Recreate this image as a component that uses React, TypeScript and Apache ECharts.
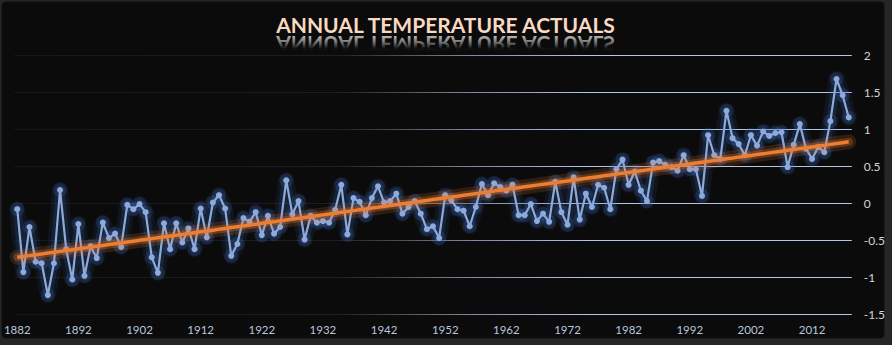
import React, { useEffect, useRef } from "react";
import * as echarts from "echarts";

const FIRST_YEAR = 1882;
const TITLE = "ANNUAL TEMPERATURE ACTUALS";
const temperatures: number[] = [
  -0.08, -0.93, -0.32, -0.79, -0.81, -1.24, -0.81, 0.18, -0.62, -1.03,
  -0.28, -0.98, -0.58, -0.74, -0.26, -0.47, -0.41, -0.59, -0.02, -0.08,
  -0.01, -0.12, -0.73, -0.94, -0.27, -0.62, -0.27, -0.53, -0.34, -0.62,
  -0.07, -0.46, 0.01, 0.11, -0.07, -0.71, -0.55, -0.2, -0.25, -0.12,
  -0.43, -0.17, -0.41, -0.32, 0.31, -0.15, 0.03, -0.49, -0.17, -0.26,
  -0.24, -0.26, -0.09, 0.25, -0.42, 0.07, 0.02, -0.16, 0.07, 0.23,
  0.01, 0.03, 0.13, -0.14, -0.05, 0.03, -0.14, -0.35, -0.31, -0.47,
  0.11, 0.04, -0.08, -0.1, -0.31, -0.05, 0.26, 0.11, 0.27, 0.22,
  0.17, 0.25, -0.16, -0.16, -0.01, -0.24, -0.14, -0.25, 0.29, -0.12,
  -0.29, 0.35, -0.22, 0.13, -0.05, 0.25, 0.21, -0.08, 0.46, 0.59,
  0.25, 0.43, 0.17, 0.03, 0.55, 0.57, 0.52, 0.49, 0.44, 0.65,
  0.46, 0.46, 0.1, 0.92, 0.65, 0.6, 1.25, 0.88, 0.8, 0.65,
  0.92, 0.78, 0.97, 0.91, 0.95, 0.96, 0.49, 0.79, 1.07, 0.74,
  0.6, 0.76, 0.69, 1.11, 1.68, 1.46, 1.16,
];
const years: string[] = temperatures.map((_, i) => String(FIRST_YEAR + i));

function linearTrend(values: number[]): number[] {
  const n = values.length;
  let sx = 0, sy = 0, sxx = 0, sxy = 0;
  values.forEach((v, i) => { sx += i; sy += v; sxx += i * i; sxy += i * v; });
  const slope = (n * sxy - sx * sy) / (n * sxx - sx * sx);
  const icpt = (sy - slope * sx) / n;
  return values.map((_, i) => +(icpt + slope * i).toFixed(4));
}

export default function App() {
  const ref = useRef<HTMLDivElement>(null);
  useEffect(() => {
    document.body.style.margin = "0";
    const chart = echarts.init(ref.current!, null, { renderer: "svg" });
    const trend = linearTrend(temperatures);
    const gridGrad = new echarts.graphic.LinearGradient(0, 0, 892, 0, [
      { offset: 0, color: "rgba(180,199,231,0.06)" },
      { offset: 0.38, color: "rgba(180,199,231,0.1)" },
      { offset: 0.52, color: "rgba(180,199,231,0.65)" },
      { offset: 0.66, color: "rgba(180,199,231,1)" },
      { offset: 1, color: "rgba(180,199,231,1)" },
    ], true);
    const glowLine = (data: number[], color: string, width: number, z: number) => ({
      type: "line", data, symbol: "none", z, silent: true,
      lineStyle: { color, width, cap: "round", join: "round" },
    });
    const glowDots = (data: number[], color: string, size: number, z: number) => ({
      type: "line", data, symbol: "circle", symbolSize: size, showAllSymbol: true, z, silent: true,
      lineStyle: { width: 0, opacity: 0 }, itemStyle: { color },
    });
    chart.setOption({
      animation: false,
      backgroundColor: "#262626",
      graphic: [
        { type: "rect", z: -10, shape: { x: 2, y: 2, width: 882, height: 336, r: 3 }, style: { fill: "#0b0b0b", stroke: "#111", lineWidth: 1 } },
        {
          type: "text", z: 10, x: 445.5, y: 24.5,
          style: {
            text: TITLE, font: "bold 21px Lato", align: "center", verticalAlign: "middle",
            fill: "#fad9c2",
          },
        },
        {
          type: "text", z: 10, x: 445.5, y: 44.5, scaleY: -1, originX: 0, originY: 0,
          style: {
            text: TITLE, font: "bold 21px Lato", align: "center", verticalAlign: "middle",
            fill: "#bdbdbd",
          },
        },
        {
          type: "rect", z: 11, shape: { x: 260, y: 35.5, width: 372, height: 16 },
          style: {
            fill: new echarts.graphic.LinearGradient(0, 0, 0, 1, [
              { offset: 0, color: "rgba(11,11,11,0)" },
              { offset: 0.45, color: "rgba(11,11,11,0.45)" },
              { offset: 0.8, color: "rgba(11,11,11,0.95)" },
              { offset: 1, color: "rgba(11,11,11,1)" },
            ]),
          },
        },
      ],
      grid: { left: 14.2, right: 40.2, top: 55.3, bottom: 30.7, containLabel: false },
      xAxis: {
        type: "category", data: years, boundaryGap: true,
        axisLine: { show: false }, axisTick: { show: false },
        axisLabel: { interval: 9, color: "#b8c6dc", fontFamily: "Lato", fontSize: 11.5, margin: 9 },
        splitLine: { show: false },
      },
      yAxis: {
        type: "value", position: "right", min: -1.5, max: 2, interval: 0.5,
        axisLine: { show: false }, axisTick: { show: false },
        axisLabel: { color: "#d4d4d4", fontFamily: "Lato", fontSize: 12, margin: 12 },
        splitLine: { show: true, lineStyle: { color: gridGrad, width: 1 } },
      },
      series: [
        glowLine(temperatures, "rgba(60,110,200,0.1)", 16, 1),
        glowLine(temperatures, "rgba(70,120,210,0.14)", 9, 1),
        glowDots(temperatures, "rgba(70,120,210,0.18)", 14, 1),
        {
          type: "line", data: temperatures, symbol: "circle", symbolSize: 6, showAllSymbol: true, z: 2,
          lineStyle: { color: "#8eaadb", width: 2.2 },
          itemStyle: { color: "#8eaadb" },
        },
        glowLine(trend, "rgba(237,125,49,0.16)", 15, 3),
        glowLine(trend, "rgba(237,125,49,0.28)", 8, 3),
        {
          type: "line", data: trend, symbol: "none", z: 4,
          lineStyle: { color: "#ed7d31", width: 3.5 },
        },
      ],
    });
    return () => chart.dispose();
  }, []);
  return <div ref={ref} style={{ position: "absolute", left: 0, top: 0, width: 892, height: 345 }} />;
}
